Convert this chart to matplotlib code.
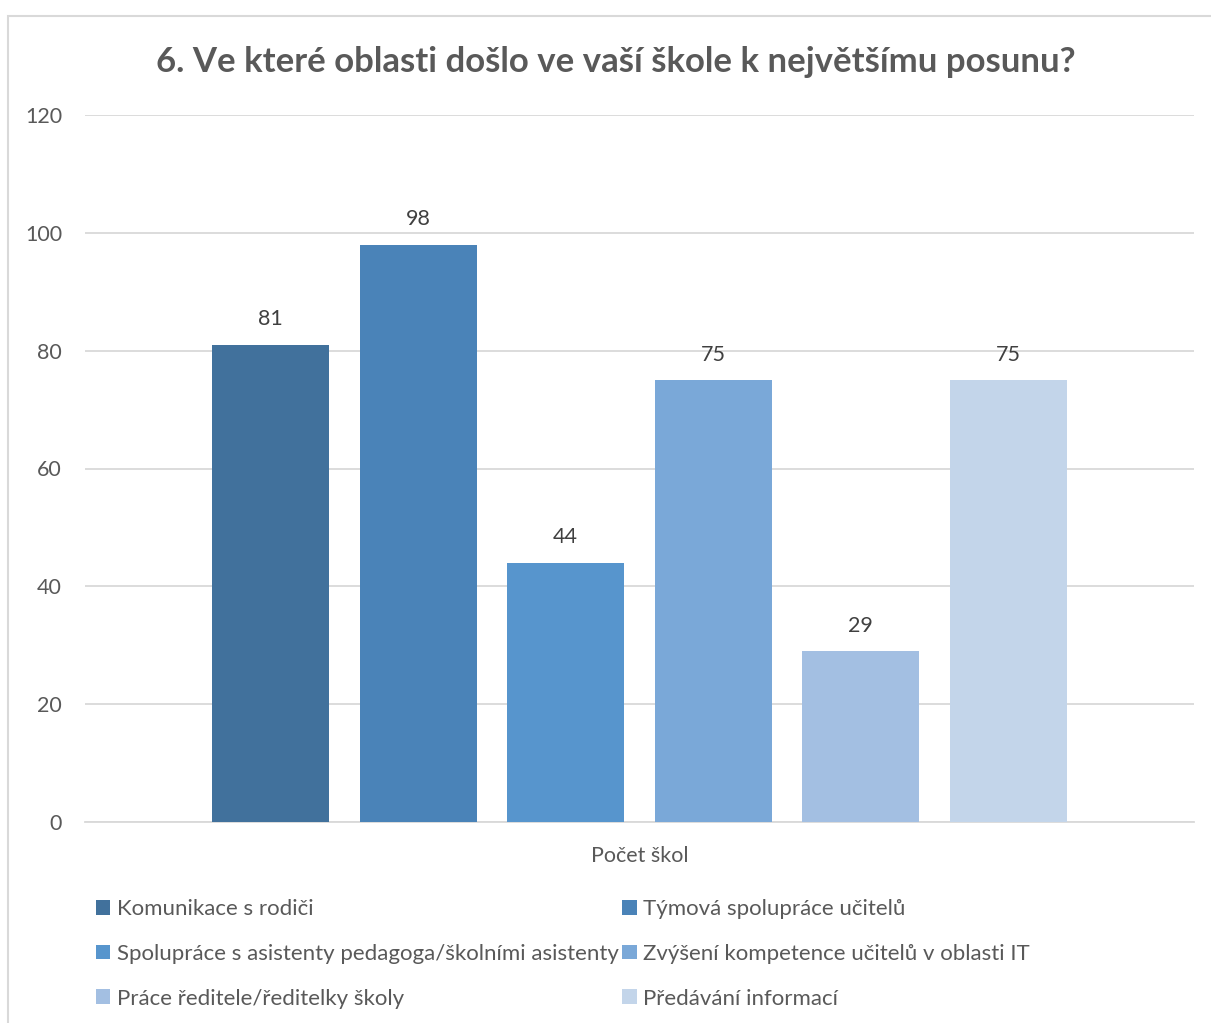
import matplotlib
matplotlib.use("Agg")
import matplotlib.pyplot as plt
from matplotlib.patches import Rectangle, Patch

plt.rcParams['font.family'] = ['Lato', 'DejaVu Sans']

TITLE = "6. Ve které oblasti došlo ve vaší škole k největšímu posunu?"
X_LABEL = "Počet škol"

series_names = [
    "Komunikace s rodiči",
    "Týmová spolupráce učitelů",
    "Spolupráce s asistenty pedagoga/školními asistenty",
    "Zvýšení kompetence učitelů v oblasti IT",
    "Práce ředitele/ředitelky školy",
    "Předávání informací",
]
series_values = [81, 98, 44, 75, 29, 75]
y_ticks = [0, 20, 40, 60, 80, 100, 120]

bar_colors = ["#41719C", "#4A83B8", "#5795CD", "#7AA8D8", "#A3BFE2", "#C3D5EA"]
TEXT_GRAY = "#595959"

fig = plt.figure(figsize=(12.11, 10.23), dpi=100)

# chart frame like in the office export
fig.patches.append(Rectangle((8 / 1211, -0.1), 1.2, 1.1 - 16 / 1023,
                             transform=fig.transFigure, fill=False,
                             edgecolor="#D9D9D9", linewidth=1.5, zorder=0))

ax = fig.add_axes([85 / 1211, 1 - 822 / 1023, 1109 / 1211, 707 / 1023])

n = len(series_values)
bar_w = 0.793
for i, (name, val) in enumerate(zip(series_names, series_values)):
    x = i - (n - 1) / 2
    ax.bar(x, val, width=bar_w, color=bar_colors[i], zorder=3, label=name)
    ax.text(x, val + 2.6, str(val), ha="center", va="bottom",
            fontsize=15.5, color="#404040")

ax.set_xlim(-3.757, 3.757)
ax.set_ylim(0, 120)
ax.set_yticks(y_ticks)
ax.yaxis.grid(True, color="#D9D9D9", linewidth=1.3, zorder=0)
ax.set_axisbelow(True)
for s in ["top", "right", "left"]:
    ax.spines[s].set_visible(False)
ax.spines["bottom"].set_color("#D9D9D9")
ax.spines["bottom"].set_linewidth(1.3)
ax.tick_params(axis="y", length=0, pad=16.5, labelsize=15.5, labelcolor=TEXT_GRAY)
ax.set_xticks([])
ax.set_xlabel(X_LABEL, fontsize=15.5, color=TEXT_GRAY, labelpad=17)

fig.text(0.5085, 1 - 62 / 1023, TITLE, ha="center", va="center",
         fontsize=25, fontweight="bold", color=TEXT_GRAY)

order = [0, 2, 4, 1, 3, 5]
leg_handles = [Patch(facecolor=bar_colors[i]) for i in order]
leg_labels = [series_names[i] for i in order]
fig.legend(leg_handles, leg_labels, ncol=2, loc="upper left",
           bbox_to_anchor=(87 / 1211, 1 - 890 / 1023), frameon=False,
           fontsize=16, labelcolor=TEXT_GRAY, handlelength=0.65,
           handleheight=0.65, handletextpad=0.3, columnspacing=0.15,
           labelspacing=1.12, borderaxespad=0)

fig.savefig("out.png", dpi=100)
